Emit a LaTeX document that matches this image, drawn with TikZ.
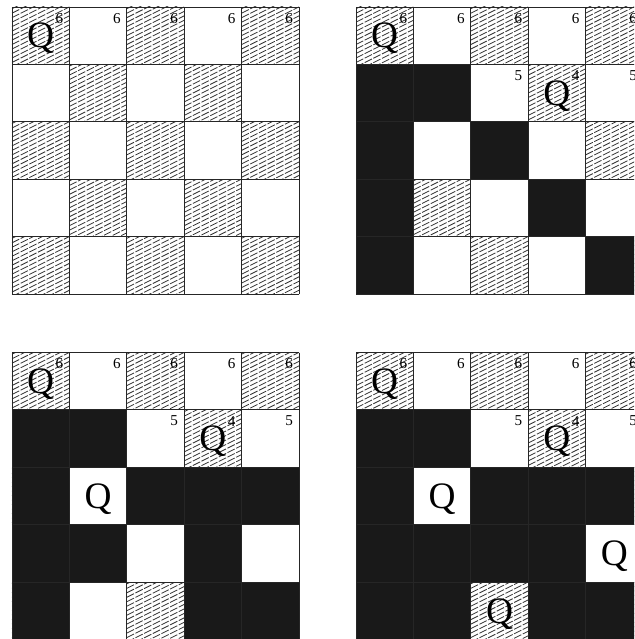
\documentclass[tikz,border=0pt]{standalone}
\usepackage{fontspec}
\setmainfont{Liberation Serif}
\tikzset{
  hatch/.style={line width=0.4pt,black!80,dash pattern=on 4pt off 0.8pt},
  cellline/.style={line width=0.45pt,black!85},
  blk/.style={fill=black!90},
  queen/.style={font=\fontsize{18.5}{18.5}\selectfont,inner sep=0pt},
  cnt/.style={font=\fontsize{7.5}{7.5}\selectfont,inner sep=0pt,anchor=north east},
}
\begin{document}
\begin{tikzpicture}[x=1cm,y=-1cm]
\useasboundingbox (0,0) rectangle (11.045,11.132);
\clip (0,0) rectangle (11.045,11.132);
\foreach \bx/\by/\b/\blist/\qlist in {
  0.209/0.122/1/{}/{0/0},
  6.202/0.122/2/{0/1,1/1,0/2,2/2,0/3,3/3,0/4,4/4}/{0/0,3/1},
  0.209/6.141/3/{0/1,1/1,0/2,2/2,3/2,4/2,0/3,1/3,3/3,0/4,3/4,4/4}/{0/0,3/1,1/2},
  6.202/6.141/4/{0/1,1/1,0/2,2/2,3/2,4/2,0/3,1/3,2/3,3/3,0/4,1/4,3/4,4/4}/{0/0,3/1,1/2,4/3,2/4}}{
\begin{scope}[shift={(\bx,\by)}]
% hatched squares
\foreach \c in {0,...,4}
  \foreach \r in {0,...,4}{
    \pgfmathparse{int(mod(\c+\r,2))}
    \ifnum\pgfmathresult=0
      \begin{scope}
      \clip (\c,\r) rectangle ++(1,1);
      \foreach \k in {0.03,0.108,...,1.55}
        \draw[hatch] (\c,\r+\k) -- ++(1,-0.5);
      \end{scope}
    \fi}
% attacked squares
\ifnum\b>1
  \foreach \c/\r in \blist
    \fill[blk] (\c,\r) rectangle ++(1,1);
\fi
\draw[cellline] (0,0) grid (5,5);
\foreach \c in {0,...,4}
  \node[cnt] (n\b-\c-0) at (\c+0.9,0.1) {6};
\ifnum\b>1
  \foreach \c/\v in {2/5,3/4,4/5}
    \node[cnt] (n\b-\c-1) at (\c+0.9,1.1) {\v};
\fi
\foreach \c/\r in \qlist
  \node[queen] (q\b-\c-\r) at (\c+0.5,\r+0.55) {Q};
\end{scope}}
\end{tikzpicture}
\end{document}
